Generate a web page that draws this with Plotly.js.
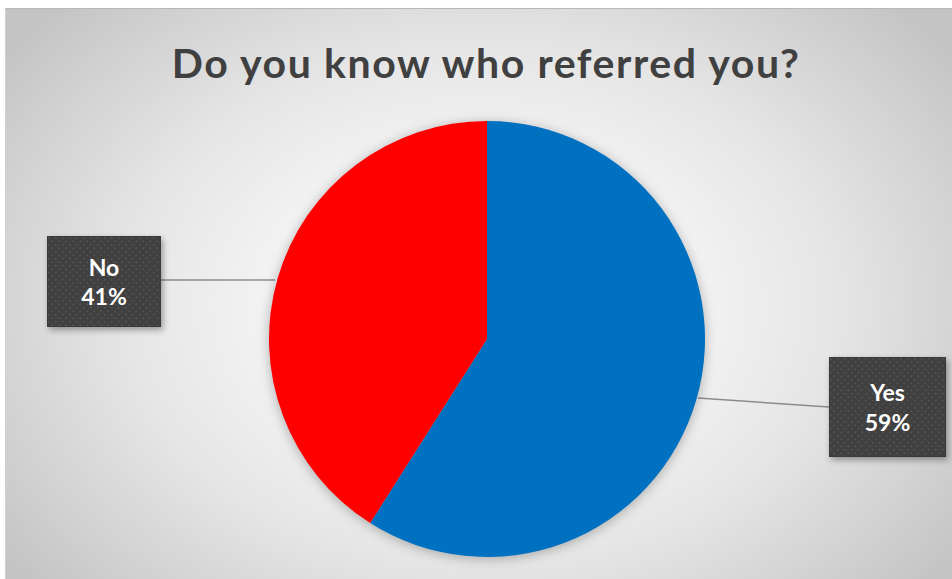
<!DOCTYPE html>
<html>
<head>
<meta charset="utf-8">
<script src="https://cdn.plot.ly/plotly-3.0.1.min.js"></script>
<style>
  html, body { margin: 0; padding: 0; background: #ffffff; width: 952px; height: 579px; overflow: hidden; }
  #frame {
    position: absolute; left: 5px; top: 8px; width: 947px; height: 571px;
    border-top: 1px solid #b8b8b8; border-left: 1px solid #d0d0d0;
    background: radial-gradient(ellipse 62% 75% at 50% 52%, #ffffff 0%, #f6f6f6 30%, #e6e6e6 60%, #cdcdcd 90%, #c4c4c4 100%);
  }
  #chart { position: absolute; left: 0; top: 0; width: 952px; height: 579px; }
  .pielayer g.trace { filter: drop-shadow(0px 2px 6px rgba(0,0,0,0.28)); }
  .annotation rect.bg { filter: drop-shadow(2px 3px 3px rgba(0,0,0,0.35)); }
  .annotation[data-index="0"] text { letter-spacing: 1.6px; }
</style>
</head>
<body>
<div id="frame"></div>
<div id="chart"></div>
<script>
const labels = ['Yes', 'No'];
const values = [59, 41];
const colors = ['#0070C0', '#FF0000'];
const chartTitle = 'Do you know who referred you?';

const W = 952, H = 579;
const px = x => x / W;
const py = y => 1 - y / H;

// pie geometry (pixels)
const cx = 487, cy = 339, r = 218;

const total = values.reduce((a, b) => a + b, 0);
const pct = values.map(v => Math.round(v / total * 100) + '%');

const trace = {
  type: 'pie',
  labels: labels,
  values: values,
  sort: false,
  direction: 'clockwise',
  rotation: 0,
  marker: { colors: colors, line: { width: 0 } },
  textinfo: 'none',
  hoverinfo: 'label+percent',
  showlegend: false,
  domain: { x: [px(cx - r), px(cx + r)], y: [py(cy + r), py(cy - r)] }
};

// label box centres (pixels) and leader-line endpoints on the pie edge
const boxPos = { 'Yes': [887, 407], 'No': [104, 281] };
const edgePts = { 'Yes': [698, 398], 'No': [275, 280] };
const boxEdge = { 'Yes': [829, 407], 'No': [161, 280] };

const annotations = [{
  text: '<b>' + chartTitle + '</b>',
  x: px(486), y: py(63), xref: 'paper', yref: 'paper',
  xanchor: 'center', yanchor: 'middle', showarrow: false,
  font: { family: 'Lato, "Open Sans", sans-serif', size: 41, color: '#404040' }
}];
const shapes = [];
labels.forEach((lab, i) => {
  annotations.push({
    text: '<b>' + lab + '</b><br><b>' + pct[i] + '</b>',
    x: px(boxPos[lab][0]), y: py(boxPos[lab][1]), xref: 'paper', yref: 'paper',
    xanchor: 'center', yanchor: 'middle', showarrow: false,
    width: lab === 'Yes' ? 113 : 110, height: lab === 'Yes' ? 96 : 87,
    bgcolor: '#404040', bordercolor: '#3a3a3a', borderwidth: 1, borderpad: 1,
    font: { family: 'Lato, "Open Sans", sans-serif', size: 23, color: '#ffffff' }
  });
  shapes.push({
    type: 'line', xref: 'paper', yref: 'paper',
    x0: px(edgePts[lab][0]), y0: py(edgePts[lab][1]),
    x1: px(boxEdge[lab][0]), y1: py(boxEdge[lab][1]),
    line: { color: '#8c8c8c', width: 1.5 }, layer: 'below'
  });
});

const layout = {
  width: W, height: H,
  margin: { l: 0, r: 0, t: 0, b: 0 },
  paper_bgcolor: 'rgba(0,0,0,0)',
  plot_bgcolor: 'rgba(0,0,0,0)',
  annotations: annotations,
  shapes: shapes
};

Plotly.newPlot('chart', [trace], layout, { displayModeBar: false, staticPlot: true }).then(gd => {
  // dotted texture for the label boxes
  const svgNS = 'http://www.w3.org/2000/svg';
  const svg = gd.querySelector('svg.main-svg');
  let defs = svg.querySelector('defs');
  if (!defs) { defs = document.createElementNS(svgNS, 'defs'); svg.insertBefore(defs, svg.firstChild); }
  const pat = document.createElementNS(svgNS, 'pattern');
  pat.setAttribute('id', 'dotpat');
  pat.setAttribute('width', '7');
  pat.setAttribute('height', '7');
  pat.setAttribute('patternUnits', 'userSpaceOnUse');
  const bg = document.createElementNS(svgNS, 'rect');
  bg.setAttribute('width', '7'); bg.setAttribute('height', '7'); bg.setAttribute('fill', '#404040');
  pat.appendChild(bg);
  [[1, 1], [4.5, 4.5]].forEach(([dx, dy]) => {
    const d = document.createElementNS(svgNS, 'rect');
    d.setAttribute('x', dx); d.setAttribute('y', dy);
    d.setAttribute('width', '1.5'); d.setAttribute('height', '1.5');
    d.setAttribute('fill', '#565656');
    pat.appendChild(d);
  });
  defs.appendChild(pat);
  gd.querySelectorAll('.annotation').forEach((a, i) => {
    if (i === 0) return;
    const r = a.querySelector('rect.bg');
    if (r) r.style.fill = 'url(#dotpat)';
  });
});
</script>
</body>
</html>
